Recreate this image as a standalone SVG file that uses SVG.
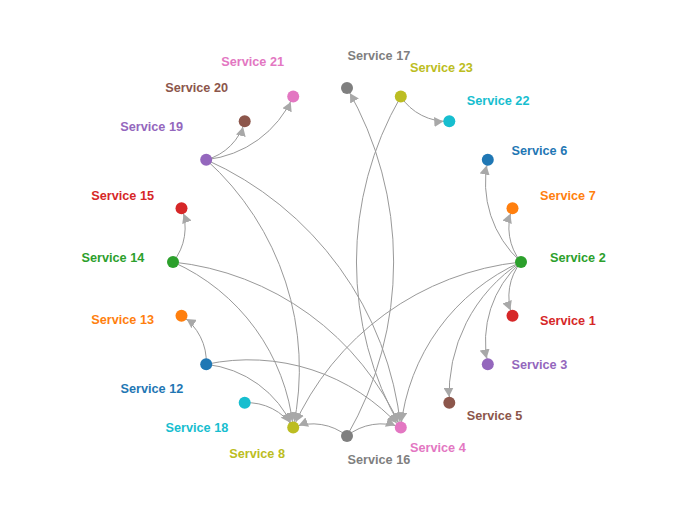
<svg xmlns="http://www.w3.org/2000/svg" width="700" height="529" viewBox="0 0 700 529">
<style>
.link{fill:none;stroke:#999;stroke-width:1;marker-end:url(#arrow)}
.node circle{stroke:none}
.node text{font-family:"Liberation Sans",Arial,Helvetica,sans-serif;font-weight:bold;font-size:12.7px}
.l{text-anchor:end}
.c1{fill:#1f77b4}.c2{fill:#ff7f0e}.c3{fill:#2ca02c}.c4{fill:#d62728}.c5{fill:#9467bd}
.c6{fill:#8c564b}.c7{fill:#e377c2}.c8{fill:#7f7f7f}.c9{fill:#bcbd22}.c10{fill:#17becf}
</style>
<defs>
<marker id="arrow" viewBox="0 -5 10 10" refX="16.7" refY="0" markerWidth="9" markerHeight="10" preserveAspectRatio="none" markerUnits="userSpaceOnUse" orient="auto">
<path d="M0,-5L10,0L0,5Z" fill="#a8a8a8"/>
</marker>
</defs>
<rect width="700" height="529" fill="#fff"/>
<g id="connectors">
<path class="link" d="M521,262 A107.5,107.5 0 0,1 487.8,159.7"/>
<path class="link" d="M521,262 A54.4,54.4 0 0,1 512.5,208.2"/>
<path class="link" d="M521,262 A54.4,54.4 0 0,0 512.5,315.8"/>
<path class="link" d="M521,262 A107.5,107.5 0 0,0 487.8,364.3"/>
<path class="link" d="M521,262 A158,158 0 0,0 449.3,402.8"/>
<path class="link" d="M521,262 A204.5,204.5 0 0,0 400.8,427.5"/>
<path class="link" d="M521,262 A281.5,281.5 0 0,0 293.2,427.5"/>
<path class="link" d="M400.8,96.5 A54.4,54.4 0 0,0 449.3,121.2"/>
<path class="link" d="M400.8,96.5 A331,331 0 0,0 400.8,427.5"/>
<path class="link" d="M347,436 A348,348 0 0,0 347,88"/>
<path class="link" d="M347,436 A54.4,54.4 0 0,0 293.2,427.5"/>
<path class="link" d="M347,436 A54.4,54.4 0 0,1 400.8,427.5"/>
<path class="link" d="M206.2,159.7 A54.4,54.4 0 0,0 244.7,121.2"/>
<path class="link" d="M206.2,159.7 A107.5,107.5 0 0,0 293.2,96.5"/>
<path class="link" d="M206.2,159.7 A281.5,281.5 0 0,1 293.2,427.5"/>
<path class="link" d="M206.2,159.7 A331,331 0 0,1 400.8,427.5"/>
<path class="link" d="M173,262 A54.4,54.4 0 0,0 181.5,208.2"/>
<path class="link" d="M173,262 A281.5,281.5 0 0,1 400.8,427.5"/>
<path class="link" d="M173,262 A204.5,204.5 0 0,1 293.2,427.5"/>
<path class="link" d="M206.2,364.3 A54.4,54.4 0 0,0 181.5,315.8"/>
<path class="link" d="M206.2,364.3 A107.5,107.5 0 0,1 293.2,427.5"/>
<path class="link" d="M206.2,364.3 A204.5,204.5 0 0,1 400.8,427.5"/>
<path class="link" d="M244.7,402.8 A54.4,54.4 0 0,1 293.2,427.5"/>
</g>
<g id="service-2" class="node"><circle class="c3" cx="521" cy="262" r="6"/><text class="c3" x="550" y="262">Service 2</text></g>
<g id="service-1" class="node"><circle class="c4" cx="512.5" cy="315.8" r="6"/><text class="c4" x="540" y="324.6">Service 1</text></g>
<g id="service-3" class="node"><circle class="c5" cx="487.8" cy="364.3" r="6"/><text class="c5" x="511.5" y="369">Service 3</text></g>
<g id="service-5" class="node"><circle class="c6" cx="449.3" cy="402.8" r="6"/><text class="c6" x="466.7" y="419.6">Service 5</text></g>
<g id="service-4" class="node"><circle class="c7" cx="400.8" cy="427.5" r="6"/><text class="c7" x="410" y="452">Service 4</text></g>
<g id="service-16" class="node"><circle class="c8" cx="347" cy="436" r="6"/><text class="c8" x="347.5" y="464">Service 16</text></g>
<g id="service-8" class="node"><circle class="c9" cx="293.2" cy="427.5" r="6"/><text class="c9 l" x="285" y="458">Service 8</text></g>
<g id="service-18" class="node"><circle class="c10" cx="244.7" cy="402.8" r="6"/><text class="c10 l" x="228.3" y="432">Service 18</text></g>
<g id="service-12" class="node"><circle class="c1" cx="206.2" cy="364.3" r="6"/><text class="c1 l" x="183.3" y="393">Service 12</text></g>
<g id="service-13" class="node"><circle class="c2" cx="181.5" cy="315.8" r="6"/><text class="c2 l" x="154" y="324">Service 13</text></g>
<g id="service-14" class="node"><circle class="c3" cx="173" cy="262" r="6"/><text class="c3 l" x="144.3" y="262.3">Service 14</text></g>
<g id="service-15" class="node"><circle class="c4" cx="181.5" cy="208.2" r="6"/><text class="c4 l" x="154" y="199.6">Service 15</text></g>
<g id="service-19" class="node"><circle class="c5" cx="206.2" cy="159.7" r="6"/><text class="c5 l" x="183" y="131.3">Service 19</text></g>
<g id="service-20" class="node"><circle class="c6" cx="244.7" cy="121.2" r="6"/><text class="c6 l" x="228" y="92.3">Service 20</text></g>
<g id="service-21" class="node"><circle class="c7" cx="293.2" cy="96.5" r="6"/><text class="c7 l" x="284" y="66.3">Service 21</text></g>
<g id="service-17" class="node"><circle class="c8" cx="347" cy="88" r="6"/><text class="c8" x="347.5" y="59.6">Service 17</text></g>
<g id="service-23" class="node"><circle class="c9" cx="400.8" cy="96.5" r="6"/><text class="c9" x="410" y="72">Service 23</text></g>
<g id="service-22" class="node"><circle class="c10" cx="449.3" cy="121.2" r="6"/><text class="c10" x="466.7" y="104.6">Service 22</text></g>
<g id="service-6" class="node"><circle class="c1" cx="487.8" cy="159.7" r="6"/><text class="c1" x="511.5" y="155.3">Service 6</text></g>
<g id="service-7" class="node"><circle class="c2" cx="512.5" cy="208.2" r="6"/><text class="c2" x="540" y="199.6">Service 7</text></g>
</svg>
